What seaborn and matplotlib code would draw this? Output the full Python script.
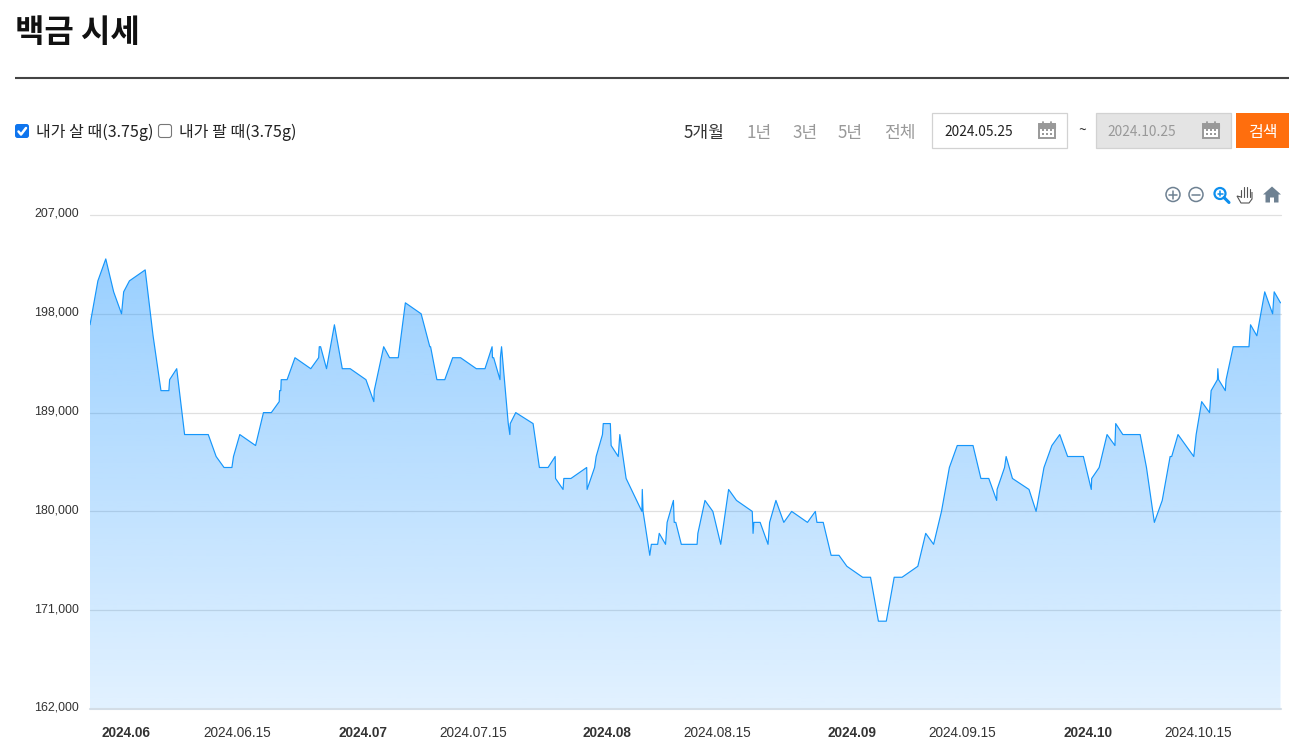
import numpy as np
import pandas as pd
import seaborn as sns
import matplotlib
matplotlib.use("Agg")
import matplotlib.pyplot as plt
import matplotlib.dates as mdates
from matplotlib.patches import Rectangle, FancyBboxPatch, Circle, Polygon
from matplotlib.transforms import ScaledTranslation

# Days counted from the first sample, and the price in thousand won
start_date = "2024-05-27"
day_offset = [
    0, 1, 2, 3, 4, 4.27, 5, 7, 8, 9, 10, 10.1, 11, 12, 15, 16, 17, 18, 18.2, 19,
    21, 22, 23, 24, 24.05, 24.2, 24.25, 25, 26, 28, 29, 29.08, 29.25, 30, 31, 32, 33, 35, 36, 36.05,
    37.25, 38, 39.1, 40, 42, 43.1, 43.2, 44, 45, 46, 47, 49, 50.1, 51, 51.05,
    51.2, 52, 52.05, 52.2, 53.05, 53.25, 53.3, 54, 56.2, 57, 58.1, 59, 59.05, 60, 60.1,
    61, 63, 63.05, 64, 64.2, 65, 65.1, 66, 66.1, 67, 67.2, 68, 70, 70.05, 70.15,
    71, 71.2, 72, 72.2, 73, 73.2, 74, 74.1, 74.3, 75, 77, 77.1, 78, 79, 80,
    81, 82, 84, 84.1, 84.2, 85, 86, 86.2, 87, 88, 89, 91, 92, 92.2, 93,
    94, 95, 96, 98, 99, 100, 101, 102, 103, 105, 106, 107, 108, 109, 110,
    112, 113, 114, 115, 115.05, 116, 116.2, 117, 119.1, 120, 121, 122, 123, 124, 126,
    127, 127.05, 128, 129, 130, 130.1, 131, 133.2, 134, 135, 136, 137, 137.2, 138, 140,
    140.3, 141, 142, 142.2, 143, 143.05, 143.15, 144, 144.1, 145, 147, 147.2, 148, 149, 150, 150.2, 151,
]
price_k = [
    197, 201, 203, 200, 198, 200, 201, 202, 196, 191, 191, 192, 193, 187, 187, 185, 184, 184, 185, 187,
    186, 189, 189, 190, 191, 191, 192, 192, 194, 193, 194, 195, 195, 193, 197, 193, 193, 192, 190, 191,
    195, 194, 194, 199, 198, 195, 195, 192, 192, 194, 194, 193, 193, 195, 194,
    194, 192, 194, 195, 188, 187, 188, 189, 188, 184, 184, 185, 183, 182, 183,
    183, 184, 182, 184, 185, 187, 188, 188, 186, 185, 187, 183, 180, 182, 180,
    176, 177, 177, 178, 177, 179, 181, 179, 179, 177, 177, 178, 181, 180, 177,
    182, 181, 180, 178, 179, 179, 177, 179, 181, 179, 180, 179, 180, 179, 179,
    176, 176, 175, 174, 174, 170, 170, 174, 174, 175, 178, 177, 180, 184, 186,
    186, 183, 183, 181, 182, 184, 185, 183, 182, 180, 184, 186, 187, 185, 185,
    182, 183, 184, 187, 186, 188, 187, 187, 184, 179, 181, 185, 185, 187, 185,
    187, 190, 189, 191, 192, 193, 192, 191, 192, 195, 195, 197, 196, 200, 198, 200, 199,
]
y_ticks = [162000, 171000, 180000, 189000, 198000, 207000]
x_tick_dates = ["2024-06-01", "2024-06-15", "2024-07-01", "2024-07-15", "2024-08-01",
                "2024-08-15", "2024-09-01", "2024-09-15", "2024-10-01", "2024-10-15"]
x_tick_labels = ["2024.06", "2024.06.15", "2024.07", "2024.07.15", "2024.08",
                 "2024.08.15", "2024.09", "2024.09.15", "2024.10", "2024.10.15"]

W, H = 1289, 748
sns.set_theme(style="white")
plt.rcParams["font.family"] = ["Noto Sans CJK KR", "DejaVu Sans"]

df = pd.DataFrame({
    "date": pd.Timestamp(start_date) + pd.to_timedelta(day_offset, unit="D"),
    "price": np.array(price_k) * 1000,
})

fig = plt.figure(figsize=(W / 100, H / 100), dpi=100, facecolor="white")
ax = fig.add_axes([90 / W, 1 - 709 / H, (1280.5 - 90) / W, (709 - 215) / H])

# Line
sns.lineplot(data=df, x="date", y="price", ax=ax, estimator=None, sort=False,
             color="#1596fb", linewidth=0.85, zorder=4)
x_lim = (mdates.date2num(df["date"].iloc[0]), mdates.date2num(df["date"].iloc[-1]))
y_lim = (y_ticks[0], y_ticks[-1])

# Gradient fill under the line
area = ax.fill_between(df["date"], df["price"], y_lim[0], facecolor="none", edgecolor="none")
grad = np.zeros((256, 1, 4))
grad[..., 0] = 30 / 255
grad[..., 1] = 150 / 255
grad[..., 2] = 1.0
grad[..., 3] = np.linspace(0.46, 0.13, 256)[:, None]
im = ax.imshow(grad, extent=[x_lim[0], x_lim[1], y_lim[0], 204000], origin="upper",
               aspect="auto", zorder=3, interpolation="bilinear")
im.set_clip_path(area.get_paths()[0], transform=ax.transData)

ax.set_xlim(*x_lim)
ax.set_ylim(*y_lim)
ax.set_xlabel("")
ax.set_ylabel("")
sns.despine(ax=ax, left=True, bottom=True, top=True, right=True)
ax.set_axisbelow(True)
ax.grid(False)
for v in y_ticks[1:]:
    ax.axhline(v, color="#e0e0e0", linewidth=0.9, zorder=1, clip_on=False)
ax.axhline(y_ticks[0], color="#d3dde6", linewidth=1.5, zorder=5, clip_on=False)

# Tick labels
ax.set_yticks(y_ticks)
ax.set_yticklabels([f"{v:,}" for v in y_ticks], family="Liberation Sans", fontsize=8.9, color="#333333")
ax.set_xticks(mdates.date2num(pd.to_datetime(x_tick_dates)))
ax.set_xticklabels(x_tick_labels, family="Liberation Sans", fontsize=9.8, color="#333333")
ax.tick_params(axis="both", length=0)
ax.tick_params(axis="y", pad=8)
ax.tick_params(axis="x", pad=12.5)
for lab, text in zip(ax.get_xticklabels(), x_tick_labels):
    if len(text) == 7:
        lab.set_fontweight("bold")
    lab.set_transform(lab.get_transform() + ScaledTranslation(-3 / 100, 0, fig.dpi_scale_trans))
for lab in ax.get_yticklabels():
    lab.set_transform(lab.get_transform() + ScaledTranslation(0, 2.5 / 100, fig.dpi_scale_trans))

# Page controls, laid out in pixel coordinates
ui = fig.add_axes([0, 0, 1, 1], facecolor="none", zorder=10)
ui.set_xlim(0, W)
ui.set_ylim(H, 0)
ui.axis("off")

ui.text(15, 32.5, "백금 시세", fontsize=23, fontweight="bold", color="#111111", va="center")
ui.plot([15, W], [77.5, 77.5], color="#444444", linewidth=1.5, solid_capstyle="butt")


def checkbox(x, checked):
    if checked:
        ui.add_patch(FancyBboxPatch((x + 1, 125), 12, 12, boxstyle="round,pad=1,rounding_size=2.5",
                                    facecolor="#0f75ee", edgecolor="none"))
        ui.plot([x + 3.5, x + 6, x + 11], [131.5, 134.5, 128], color="white", linewidth=1.8)
    else:
        ui.add_patch(FancyBboxPatch((x + 1, 125), 12, 12, boxstyle="round,pad=0.5,rounding_size=2.5",
                                    facecolor="white", edgecolor="#777777", linewidth=0.8))


checkbox(15, True)
ui.text(36, 132.5, "내가 살 때(3.75g)", fontsize=11.5, color="#222222", va="center")
checkbox(158, False)
ui.text(179, 132.5, "내가 팔 때(3.75g)", fontsize=11.5, color="#222222", va="center")

period_x = [684, 746, 792, 838, 884]
period_labels = ["5개월", "1년", "3년", "5년", "전체"]
period_colors = ["#333333", "#999999", "#999999", "#999999", "#999999"]
for x, s, c in zip(period_x, period_labels, period_colors):
    ui.text(x, 132.5, s, fontsize=12.3, color=c, va="center")


def calendar(x, color):
    ui.add_patch(Rectangle((x, 124), 16, 14, facecolor="white", edgecolor=color, linewidth=1.4))
    ui.add_patch(Rectangle((x, 124), 16, 3.5, facecolor=color, edgecolor=color, linewidth=0.8))
    ui.plot([x + 4, x + 4], [121.5, 124], color=color, linewidth=1.3)
    ui.plot([x + 12, x + 12], [121.5, 124], color=color, linewidth=1.3)
    for dx in (4, 8, 12):
        for dy in (130, 134):
            ui.add_patch(Rectangle((x + dx - 1, dy - 1), 2, 2, facecolor=color, edgecolor="none"))


ui.add_patch(Rectangle((932, 113), 134.5, 34.5, facecolor="white", edgecolor="#d2d2d2", linewidth=0.9))
ui.text(944.5, 132, "2024.05.25", fontsize=9.9, color="#222222", va="center")
calendar(1039, "#999999")
ui.text(1082, 131, "~", fontsize=10, color="#333333", va="center", ha="center")
ui.add_patch(Rectangle((1096, 113), 134.5, 34.5, facecolor="#e4e4e4", edgecolor="#d2d2d2", linewidth=0.9))
ui.text(1107.5, 132, "2024.10.25", fontsize=9.9, color="#999999", va="center")
calendar(1203, "#999999")
ui.add_patch(Rectangle((1236, 113), 53, 35, facecolor="#ff6e0d", edgecolor="none"))
ui.text(1263.5, 132, "검색", fontsize=11.5, color="white", va="center", ha="center")

# Chart toolbar icons
icon = "#6e8192"
ui.add_patch(Circle((1173, 194.5), 7, facecolor="none", edgecolor=icon, linewidth=1.1))
ui.plot([1169, 1177], [194.5, 194.5], color=icon, linewidth=1.1)
ui.plot([1173, 1173], [190.5, 198.5], color=icon, linewidth=1.1)
ui.add_patch(Circle((1196, 194.5), 7, facecolor="none", edgecolor=icon, linewidth=1.1))
ui.plot([1192, 1200], [194.5, 194.5], color=icon, linewidth=1.1)
ui.add_patch(Circle((1220, 193.5), 5.5, facecolor="none", edgecolor="#0d8fee", linewidth=1.6))
ui.plot([1224, 1229], [197.5, 202.5], color="#0d8fee", linewidth=2.2)
ui.plot([1217.5, 1222.5], [193.5, 193.5], color="#0d8fee", linewidth=1.1)
ui.plot([1220, 1220], [191, 196], color="#0d8fee", linewidth=1.1)
for fx, top in zip([1241, 1244, 1247, 1250], [190, 187, 187, 189]):
    ui.plot([fx, fx], [top, 197], color="#555555", linewidth=0.8)
ui.add_patch(Polygon([[1241, 197], [1237, 196], [1241, 203], [1249, 203], [1252, 199], [1252, 192]],
                     closed=False, facecolor="white", edgecolor="#555555", linewidth=0.8, zorder=1))
ui.add_patch(Polygon([[1263, 194.5], [1272, 186.5], [1281, 194.5], [1278.5, 194.5], [1278.5, 202.5],
                      [1274, 202.5], [1274, 197.5], [1270, 197.5], [1270, 202.5], [1265.5, 202.5], [1265.5, 194.5]],
                     closed=True, facecolor=icon, edgecolor="none"))

fig.savefig("out.png", dpi=100)
